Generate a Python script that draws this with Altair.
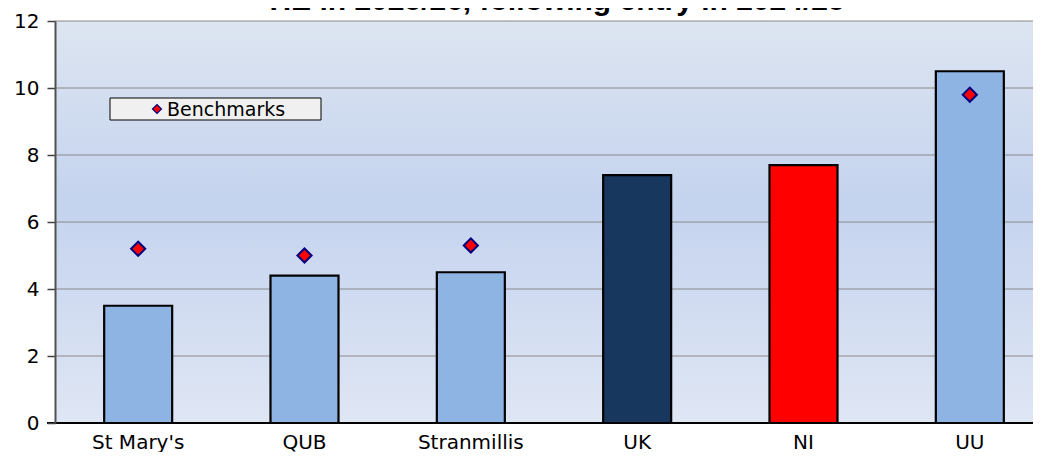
import altair as alt
import pandas as pd

title_text = "HE in 2025/26, following entry in 2024/25"
categories = ["St Mary's", "QUB", "Stranmillis", "UK", "NI", "UU"]
values = [3.5, 4.4, 4.5, 7.4, 7.7, 10.5]
bar_colors = ["#8eb4e3", "#8eb4e3", "#8eb4e3", "#17375e", "#ff0000", "#8eb4e3"]
bench_categories = ["St Mary's", "QUB", "Stranmillis", "UU"]
bench_values = [5.2, 5.0, 5.3, 9.8]
y_ticks = [0, 2, 4, 6, 8, 10, 12]
legend_label = "Benchmarks"

W, H = 978, 402

bars_df = pd.DataFrame({"cat": categories, "val": values, "col": bar_colors})
bench_df = pd.DataFrame({"cat": bench_categories, "val": bench_values})
grid_df = pd.DataFrame({"v": [t for t in y_ticks if t > 0]})
base_df = pd.DataFrame({"v": [0]})

xscale = alt.Scale(domain=categories, range=[0, 998], paddingInner=0, paddingOuter=0)
yscale = alt.Scale(domain=[0, 12], nice=False)

xaxis = alt.Axis(title=None, labelAngle=0, labelFont="DejaVu Sans",
                 labelFontSize=20, labelColor="black", labelPadding=9, ticks=False,
                 domain=False, grid=False, zindex=1)
yaxis = alt.Axis(title=None, values=y_ticks, labelFont="DejaVu Sans", labelFontSize=20,
                 labelColor="black", labelPadding=8, tickSize=8, tickColor="#404040",
                 tickWidth=1.5, domainColor="#505050", domainWidth=2,
                 grid=False, zindex=1)

bg = alt.LinearGradient(gradient="linear", x1=0, x2=0, y1=0, y2=1,
                        stops=[alt.GradientStop(offset=0, color="#dde5f1"),
                               alt.GradientStop(offset=0.45, color="#c4d3ee"),
                               alt.GradientStop(offset=1, color="#dfe6f4")])

one = pd.DataFrame({"t": [title_text]})
background = alt.Chart(one).mark_rect(fill=bg).encode(
    x=alt.value(0), x2=alt.value(W), y=alt.value(0), y2=alt.value(H))

grid = alt.Chart(grid_df).mark_rule(color="#8a8a8a", strokeWidth=1.2).encode(
    y=alt.Y("v:Q", scale=yscale, axis=yaxis), x=alt.value(0), x2=alt.value(W))

bars = alt.Chart(bars_df).mark_bar(width=68, stroke="black", strokeWidth=2.2).encode(
    x=alt.X("cat:N", scale=xscale, axis=xaxis, sort=categories),
    y=alt.Y("val:Q", scale=yscale, axis=yaxis),
    fill=alt.Fill("col:N", scale=None),
)

baseline = alt.Chart(base_df).mark_rule(color="black", strokeWidth=2).encode(
    y=alt.Y("v:Q", scale=yscale), x=alt.value(-8), x2=alt.value(W))

bench = alt.Chart(bench_df).mark_point(shape="diamond", filled=True, fill="#ff0000",
                                       stroke="#000080", strokeWidth=2, size=200,
                                       opacity=1).encode(
    x=alt.X("cat:N", scale=xscale, sort=categories),
    y=alt.Y("val:Q", scale=yscale),
)

title = alt.Chart(one).mark_text(fontSize=30, fontWeight="bold", font="Liberation Sans",
                                 baseline="alphabetic", align="center", color="black").encode(
    text="t:N", x=alt.value(502), y=alt.value(-11))

leg_df = pd.DataFrame({"t": [legend_label]})
leg_box = alt.Chart(leg_df).mark_rect(fill="#f0f0f0", stroke="black", strokeWidth=1).encode(
    x=alt.value(55), x2=alt.value(266), y=alt.value(77), y2=alt.value(99))
leg_sym = alt.Chart(leg_df).mark_point(shape="diamond", filled=True, fill="#ff0000",
                                       stroke="#000080", strokeWidth=1.2, size=80, opacity=1).encode(
    x=alt.value(102), y=alt.value(88))
leg_txt = alt.Chart(leg_df).mark_text(fontSize=19, font="DejaVu Sans", align="left",
                                      baseline="middle", color="black").encode(
    text="t:N", x=alt.value(112), y=alt.value(89))

chart = alt.layer(background, grid, bars, baseline, bench, leg_box, leg_sym, leg_txt, title).properties(
    width=W, height=H,
    autosize=alt.AutoSizeParams(type="none"),
    padding={"left": 47, "top": 13, "right": 0, "bottom": 29},
).configure_view(stroke=None).configure(background="white")

chart.save("out.html", embed_options={"renderer": "svg", "actions": False})
